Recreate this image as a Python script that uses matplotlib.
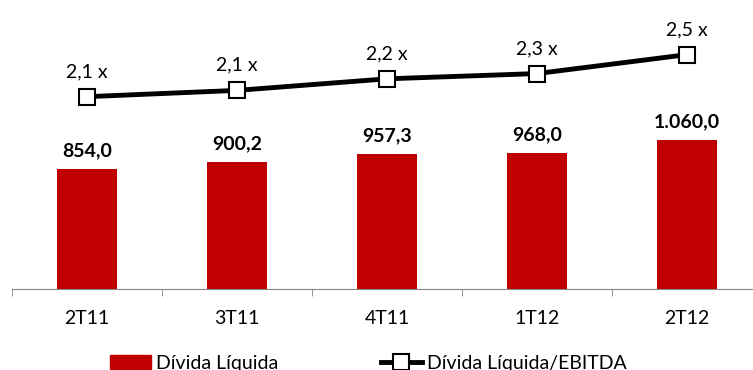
import matplotlib
matplotlib.use("Agg")
import matplotlib.pyplot as plt
from matplotlib import font_manager
from matplotlib.patches import Patch
from matplotlib.lines import Line2D

# data
quarters = ["2T11", "3T11", "4T11", "1T12", "2T12"]
divida_liquida = [854.0, 900.2, 957.3, 968.0, 1060.0]
divida_ebitda = [2.06, 2.12, 2.23, 2.28, 2.46]
bar_labels = ["854,0", "900,2", "957,3", "968,0", "1.060,0"]
line_labels = ["2,1 x", "2,1 x", "2,2 x", "2,3 x", "2,5 x"]

names = {f.name for f in font_manager.fontManager.ttflist}
font = "Liberation Sans Narrow" if "Liberation Sans Narrow" in names else "Lato"
plt.rcParams["font.family"] = [font, "DejaVu Sans"]

red = "#C00000"
fs = 14

fig = plt.figure(figsize=(7.53, 3.70), dpi=100)
ax = fig.add_axes([12 / 753, 81 / 370, 750 / 753, 289 / 370])
x = range(len(quarters))

ax.bar(x, divida_liquida, width=0.4, color=red, zorder=2)
for i, v in enumerate(divida_liquida):
	ax.annotate(bar_labels[i], (i, v), xytext=(0, 7), textcoords="offset points",
		ha="center", va="bottom", fontsize=fs, fontweight="bold")

ax.set_ylim(0, 2050)
ax.set_xlim(-0.5, 4.5)
for s in ["top", "left", "right"]:
	ax.spines[s].set_visible(False)
ax.spines["bottom"].set_color("#868686")
ax.set_yticks([])
ax.set_xticks(list(x))
ax.set_xticklabels(quarters, fontsize=fs)
ax.tick_params(axis="x", which="major", length=0, pad=15)
ax.set_xticks([i - 0.5 for i in range(len(quarters) + 1)], minor=True)
ax.tick_params(axis="x", which="minor", length=5, color="#868686")

ax2 = ax.twinx()
ax2.plot(x, divida_ebitda, color="black", lw=3.5, marker="s", ms=12,
	mfc="white", mec="black", mew=1.5, zorder=3)
for i, v in enumerate(divida_ebitda):
	ax2.annotate(line_labels[i], (i, v), xytext=(0, 12), textcoords="offset points",
		ha="center", va="bottom", fontsize=fs)
ax2.set_ylim(0.23, 2.98)
ax2.axis("off")

handles = [
	Patch(color=red, label="Dívida Líquida"),
	Line2D([], [], color="black", lw=3.5, marker="s", ms=12, mfc="white",
		mec="black", mew=1.5, label="Dívida Líquida/EBITDA"),
]
fig.legend(handles=handles, ncol=2, loc="center left",
	bbox_to_anchor=(110 / 753, 1 - 363 / 370), frameon=False, fontsize=fs,
	handlelength=2.1, columnspacing=5.3, handletextpad=0.25,
	borderpad=0, borderaxespad=0)

fig.savefig("out.png", dpi=100)
